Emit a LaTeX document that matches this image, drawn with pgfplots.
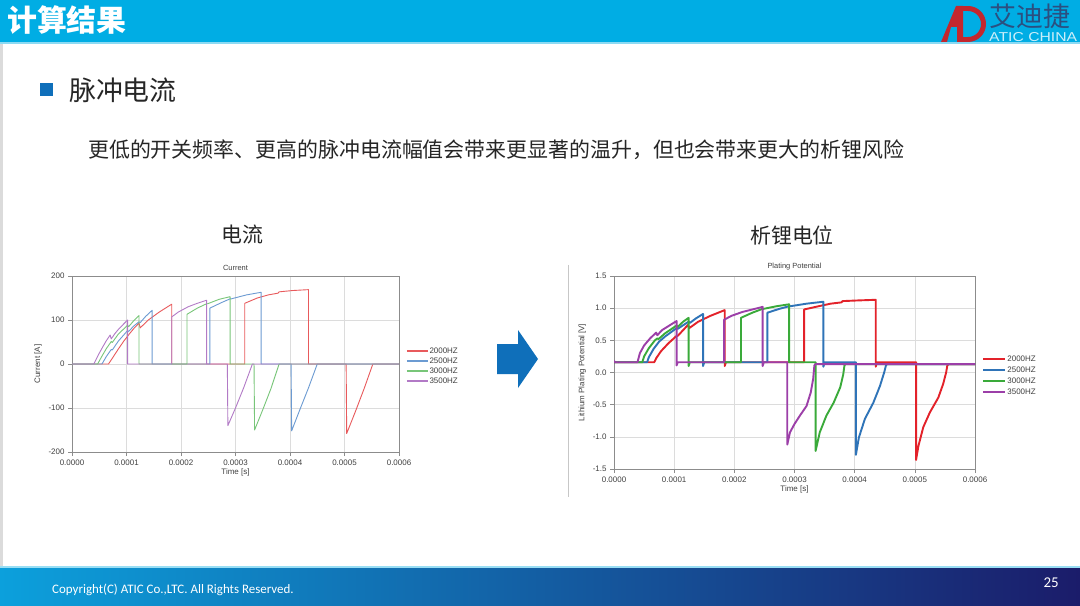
\documentclass[border=0pt]{standalone}
\usepackage{fontspec}
\setmainfont{Liberation Sans}
\newfontfamily\cjk{Noto Sans CJK SC}
\newfontfamily\carl{Carlito}
\usepackage{pgfplots}
\pgfplotsset{compat=1.18}

\definecolor{headc}{HTML}{00ADE4}
\definecolor{bulc}{HTML}{0F6FBA}
\definecolor{txtc}{HTML}{262626}
\definecolor{axc}{HTML}{8C8C8C}
\definecolor{gridc}{HTML}{DCDCDC}
\definecolor{tickc}{HTML}{404040}
\definecolor{logored}{HTML}{C3272E}
\definecolor{logoblue}{HTML}{2B4F80}
\definecolor{footl}{HTML}{0CA0DC}
\definecolor{footm}{HTML}{1463B3}
\definecolor{footr}{HTML}{1B1C6A}
% thin lines (current)
\definecolor{cRa}{HTML}{E85A5C}
\definecolor{cBa}{HTML}{6C9BD2}
\definecolor{cGa}{HTML}{78C679}
\definecolor{cPa}{HTML}{B27AC6}
% thick lines (potential)
\definecolor{cRb}{HTML}{E3222A}
\definecolor{cBb}{HTML}{2F74B8}
\definecolor{cGb}{HTML}{3AAA3A}
\definecolor{cPb}{HTML}{9C3FA8}

\pgfplotsset{
  slide/.style={
    scale only axis, anchor=north west,
    xmin=0, xmax=0.0006,
    xtick={0,0.0001,0.0002,0.0003,0.0004,0.0005,0.0006},
    xticklabels={0.0000,0.0001,0.0002,0.0003,0.0004,0.0005,0.0006},
    scaled x ticks=false, scaled y ticks=false,
    grid=major, grid style={color=gridc, line width=0.5bp},
    axis line style={color=axc, line width=0.7bp},
    tick align=outside, tick pos=left, major tick length=4bp,
    tick style={color=axc, line width=0.5bp},
    ticklabel style={font=\fontsize{8}{9}\selectfont, text=tickc},
    title style={font=\fontsize{7.5}{8}\selectfont, text=tickc, yshift=-4bp},
    label style={font=\fontsize{8}{9}\selectfont, text=tickc},
    xlabel style={yshift=3bp},
    legend cell align=left,
    legend style={anchor=north west, draw=none, fill=none,
      font=\fontsize{8}{9}\selectfont, text=tickc,
      row sep=0pt, nodes={inner sep=1bp, text height=6.5bp, text depth=1.5bp}},
  },
}

\begin{document}
\begin{tikzpicture}
\begin{scope}[x=1bp,y=1bp]
\path[use as bounding box, fill=white] (0,0) rectangle (1080,-606);
% header
\fill[headc] (0,0) rectangle (1080,-42);
\fill[headc!45!white] (0,-42) rectangle (1080,-44);
\node[anchor=west, inner sep=0, text=white, font=\cjk\bfseries\fontsize{30}{32}\selectfont] at (7,-20) {计算结果};
% logo
\fill[logored] (941,-42) -- (956,-6) -- (963,-6) -- (963,-42) -- (957,-42) -- (957,-27) -- (951,-27) -- (947,-42) -- cycle;
\draw[logored, line width=5] (962,-8.5) -- (968,-8.5) arc[start angle=90, end angle=-90, radius=15.5] -- (962,-39.5);
\node[anchor=west, inner sep=0, text=logoblue, font=\cjk\fontsize{27}{28}\selectfont] at (989,-16) {艾迪捷};
\node[anchor=west, inner sep=0, text=white!80!headc] at (989,-37) {\resizebox{88bp}{9bp}{\fontsize{10}{10}\selectfont ATIC CHINA}};
% left edge strip
\fill[black!14] (0,-44) rectangle (3,-567);
% headings
\fill[bulc] (40,-83) rectangle (53,-96);
\node[anchor=west, inner sep=0, text=txtc, font=\cjk\fontsize{27}{29}\selectfont] at (69,-90) {脉冲电流};
\node[anchor=west, inner sep=0, text=txtc, font=\cjk\fontsize{21}{24}\selectfont] at (88,-150) {更低的开关频率、更高的脉冲电流幅值会带来更显著的温升，但也会带来更大的析锂风险};
\node[inner sep=0, text=txtc, font=\cjk\fontsize{21}{24}\selectfont] at (242,-235) {电流};
\node[inner sep=0, text=txtc, font=\cjk\fontsize{21}{24}\selectfont] at (792,-235) {析锂电位};
% arrow and divider
\fill[bulc] (497,-344) -- (518,-344) -- (518,-330) -- (538,-359) -- (518,-388) -- (518,-374) -- (497,-374) -- cycle;
\draw[black!22, line width=1] (568,-265) -- (568,-497);
% footer
\shade[left color=footl, middle color=footm, right color=footr] (0,-567) rectangle (1080,-606);
\fill[headc!40!white] (0,-566) rectangle (1080,-568);
\node[anchor=west, inner sep=0, text=white, font=\carl\fontsize{13}{15}\selectfont] at (52,-590) {Copyright(C) ATIC Co.,LTC. All Rights Reserved.};
\node[anchor=east, inner sep=0, text=white, font=\carl\fontsize{15}{16}\selectfont] at (1059,-583) {25};
\end{scope}

% ---------- current ----------
\begin{axis}[slide, at={(72bp,-276bp)}, width=327bp, height=176bp,
  ymin=-200, ymax=200, ytick={-200,-100,0,100,200},
  yticklabels={-200,-100,0,100,200},
  title={Current}, xlabel={Time [s]}, ylabel={Current [A]},
  legend style={at={(1.012,0.614)}},
  legend image code/.code={\draw[#1, line width=1.4bp] (0bp,0bp) -- (21bp,0bp);},
  every axis plot/.append style={line width=0.9bp, line join=round}]
\addplot[cRa] coordinates {(0,0)(0.67e-4,0)(0.75e-4,15)(0.85e-4,34)(0.95e-4,52)(1.05e-4,68)(1.15e-4,83)(1.23e-4,93)(1.25e-4,82)(1.40e-4,100)(1.60e-4,118)(1.83e-4,136)(1.83e-4,0)(3.17e-4,0)(3.17e-4,138)(3.40e-4,150)(3.60e-4,157)(3.78e-4,161)(3.80e-4,164)(4.05e-4,167)(4.34e-4,169)(4.34e-4,0)(5.03e-4,0)(5.04e-4,-158)(5.20e-4,-108)(5.36e-4,-56)(5.52e-4,0)(6e-4,0)};
\addplot[cBa] coordinates {(0,0)(0.55e-4,0)(0.63e-4,17)(0.72e-4,33)(0.74e-4,32)(0.85e-4,52)(1.02e-4,76)(1.04e-4,74)(1.13e-4,86)(1.23e-4,96)(1.25e-4,94)(1.35e-4,108)(1.47e-4,122)(1.47e-4,0)(2.53e-4,0)(2.53e-4,127)(2.75e-4,140)(2.90e-4,148)(2.92e-4,148)(3.20e-4,157)(3.47e-4,163)(3.47e-4,0)(4.02e-4,0)(4.03e-4,-152)(4.18e-4,-104)(4.34e-4,-54)(4.50e-4,0)(6e-4,0)};
\addplot[cGa] coordinates {(0,0)(0.47e-4,0)(0.55e-4,18)(0.63e-4,35)(0.72e-4,51)(0.74e-4,49)(0.85e-4,68)(1.02e-4,88)(1.04e-4,85)(1.13e-4,98)(1.23e-4,110)(1.23e-4,0)(2.11e-4,0)(2.11e-4,113)(2.30e-4,127)(2.47e-4,137)(2.49e-4,137)(2.70e-4,147)(2.90e-4,153)(2.90e-4,0)(3.34e-4,0)(3.35e-4,-150)(3.50e-4,-104)(3.65e-4,-56)(3.80e-4,0)(6e-4,0)};
\addplot[cPa] coordinates {(0,0)(0.40e-4,0)(0.48e-4,20)(0.56e-4,38)(0.63e-4,53)(0.70e-4,66)(0.72e-4,57)(0.78e-4,68)(0.86e-4,80)(0.94e-4,90)(1.02e-4,100)(1.02e-4,0)(1.83e-4,0)(1.83e-4,107)(1.95e-4,118)(2.07e-4,126)(2.13e-4,130)(2.15e-4,131)(2.30e-4,138)(2.47e-4,145)(2.47e-4,0)(2.85e-4,0)(2.86e-4,-140)(3.00e-4,-100)(3.15e-4,-54)(3.31e-4,0)(6e-4,0)};
\legend{2000HZ,2500HZ,3000HZ,3500HZ}
\end{axis}

% ---------- plating potential ----------
\begin{axis}[slide, at={(614bp,-276bp)}, width=361bp, height=193bp,
  ymin=-1.5, ymax=1.5, ytick={-1.5,-1,-0.5,0,0.5,1,1.5},
  yticklabels={-1.5,-1.0,-0.5,0.0,0.5,1.0,1.5},
  title={Plating Potential}, xlabel={Time [s]}, ylabel={Lithium Plating Potential [V]},
  legend style={at={(1.012,0.610)}, nodes={inner sep=1bp, text height=7bp, text depth=2bp}},
  legend image code/.code={\draw[#1] (0bp,0bp) -- (22bp,0bp);},
  every axis plot/.append style={line width=1.9bp, line join=round}]
\addplot[cRb] coordinates {(0,0.16)(0.67e-4,0.16)(0.70e-4,0.22)(0.78e-4,0.33)(0.90e-4,0.45)(1.04e-4,0.57)(1.06e-4,0.57)(1.15e-4,0.66)(1.23e-4,0.74)(1.25e-4,0.69)(1.40e-4,0.79)(1.60e-4,0.88)(1.84e-4,0.97)(1.84e-4,0.10)(1.86e-4,0.16)(3.16e-4,0.16)(3.16e-4,0.98)(3.40e-4,1.03)(3.60e-4,1.07)(3.78e-4,1.09)(3.80e-4,1.11)(4.05e-4,1.12)(4.35e-4,1.13)(4.35e-4,0.09)(4.37e-4,0.16)(5.02e-4,0.16)(5.02e-4,-1.36)(5.06e-4,-1.14)(5.14e-4,-0.85)(5.25e-4,-0.62)(5.39e-4,-0.39)(5.47e-4,-0.18)(5.52e-4,0.0)(5.54e-4,0.11)(5.56e-4,0.13)(6e-4,0.13)};
\addplot[cBb] coordinates {(0,0.16)(0.55e-4,0.16)(0.58e-4,0.24)(0.66e-4,0.37)(0.75e-4,0.48)(0.85e-4,0.56)(1.04e-4,0.69)(1.06e-4,0.68)(1.24e-4,0.79)(1.26e-4,0.77)(1.36e-4,0.84)(1.48e-4,0.91)(1.48e-4,0.10)(1.50e-4,0.16)(2.55e-4,0.16)(2.55e-4,0.93)(2.75e-4,0.99)(2.91e-4,1.03)(2.93e-4,1.03)(3.20e-4,1.07)(3.48e-4,1.10)(3.48e-4,0.09)(3.50e-4,0.16)(4.02e-4,0.16)(4.02e-4,-1.28)(4.07e-4,-1.01)(4.17e-4,-0.72)(4.31e-4,-0.47)(4.42e-4,-0.21)(4.49e-4,0.0)(4.52e-4,0.11)(4.54e-4,0.13)(6e-4,0.13)};
\addplot[cGb] coordinates {(0,0.16)(0.47e-4,0.16)(0.50e-4,0.25)(0.58e-4,0.38)(0.68e-4,0.50)(0.72e-4,0.53)(0.74e-4,0.52)(0.85e-4,0.61)(1.04e-4,0.73)(1.06e-4,0.71)(1.15e-4,0.79)(1.24e-4,0.85)(1.24e-4,0.10)(1.26e-4,0.16)(2.11e-4,0.16)(2.11e-4,0.85)(2.30e-4,0.93)(2.47e-4,0.99)(2.49e-4,0.99)(2.70e-4,1.03)(2.91e-4,1.06)(2.91e-4,0.16)(3.35e-4,0.16)(3.35e-4,-1.22)(3.42e-4,-0.93)(3.53e-4,-0.67)(3.65e-4,-0.47)(3.76e-4,-0.23)(3.81e-4,-0.03)(3.83e-4,0.11)(3.85e-4,0.13)(6e-4,0.13)};
\addplot[cPb] coordinates {(0,0.18)(0.02e-4,0.16)(0.39e-4,0.16)(0.43e-4,0.30)(0.50e-4,0.42)(0.60e-4,0.53)(0.70e-4,0.62)(0.72e-4,0.58)(0.80e-4,0.66)(0.92e-4,0.73)(1.04e-4,0.80)(1.04e-4,0.11)(1.06e-4,0.16)(1.83e-4,0.16)(1.83e-4,0.82)(1.95e-4,0.88)(2.10e-4,0.93)(2.13e-4,0.94)(2.30e-4,0.98)(2.47e-4,1.02)(2.47e-4,0.10)(2.49e-4,0.16)(2.88e-4,0.16)(2.88e-4,-1.12)(2.925e-4,-0.93)(3.00e-4,-0.80)(3.09e-4,-0.67)(3.20e-4,-0.52)(3.27e-4,-0.31)(3.31e-4,-0.10)(3.33e-4,0.11)(3.35e-4,0.13)(6e-4,0.13)};
\legend{2000HZ,2500HZ,3000HZ,3500HZ}
\end{axis}
\end{tikzpicture}
\end{document}
